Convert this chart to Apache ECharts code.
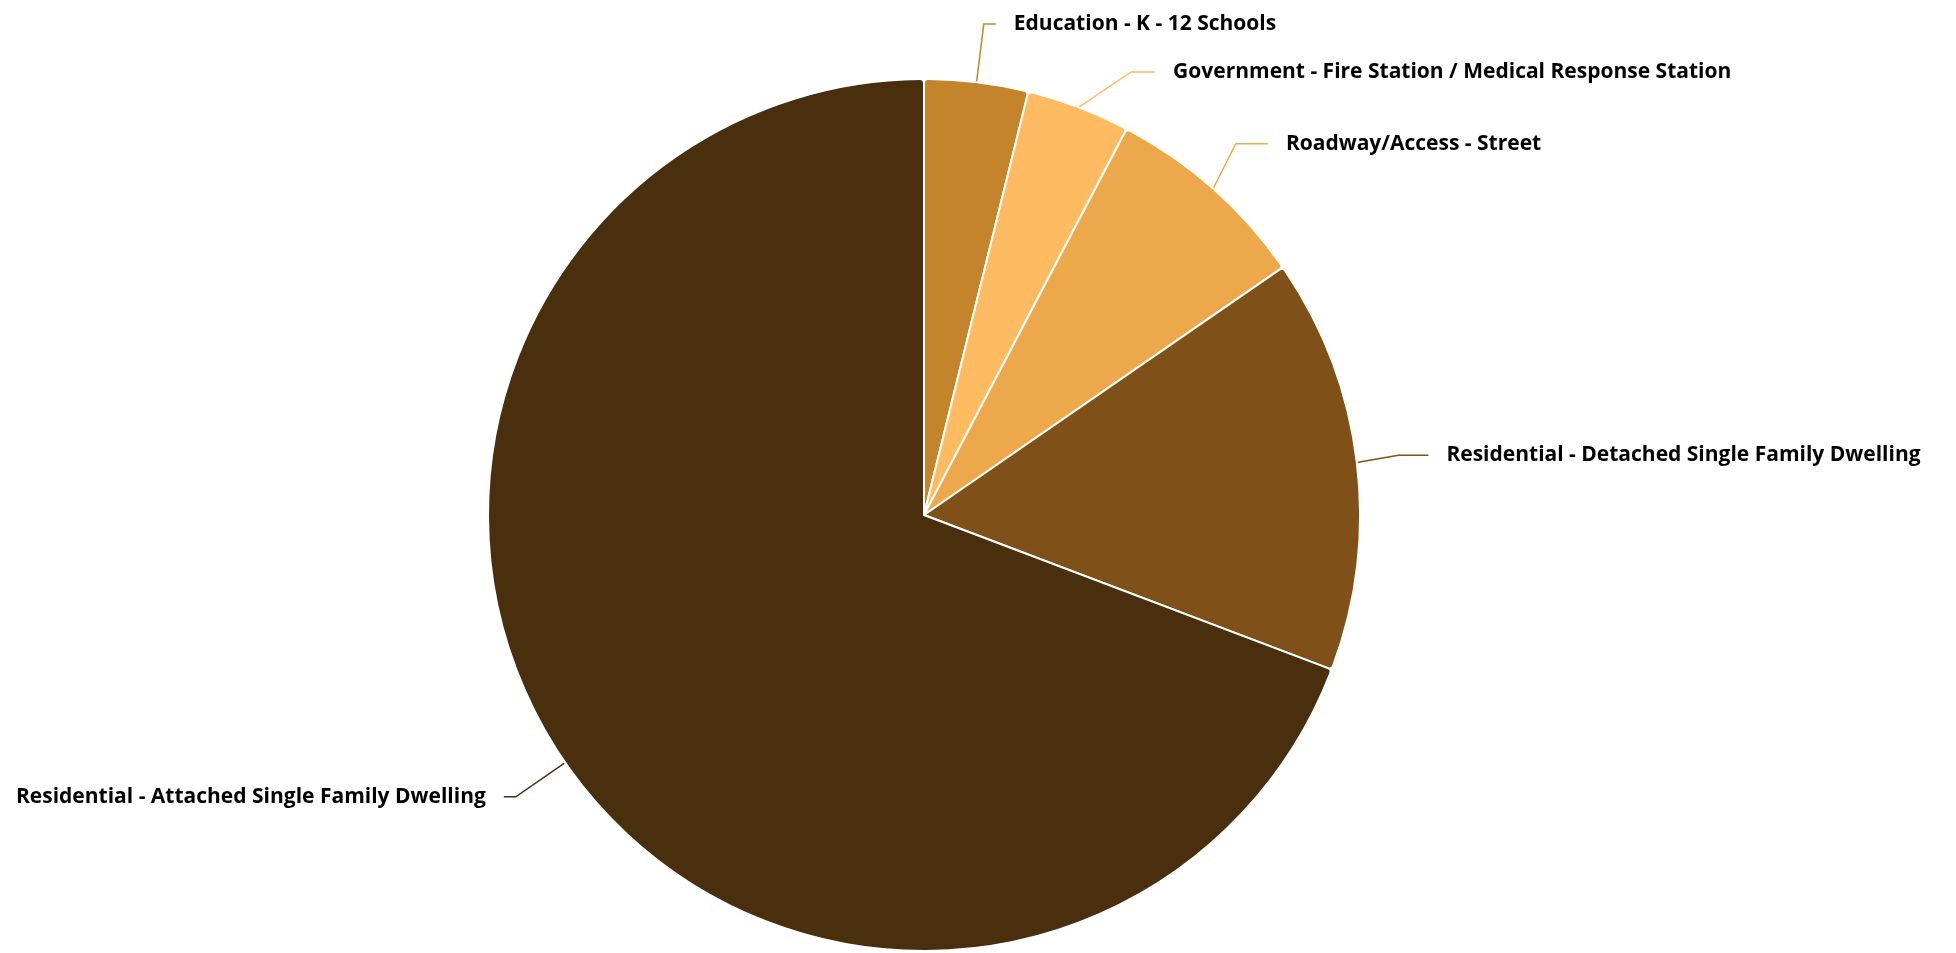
<!DOCTYPE html>
<html><head><meta charset="utf-8">
<script src="https://cdn.jsdelivr.net/npm/echarts@6/dist/echarts.min.js"></script>
<style>html,body{margin:0;padding:0;background:#fff}#c{width:1956px;height:953px}</style>
</head><body><div id="c"></div>
<script>
const categories = [
  "Education - K - 12 Schools",
  "Government - Fire Station / Medical Response Station",
  "Roadway/Access - Street",
  "Residential - Detached Single Family Dwelling",
  "Residential - Attached Single Family Dwelling"
];
const values = [1, 1, 2, 4, 18];
const colors = ["#C4842C", "#FEBB62", "#EDA84C", "#7F5118", "#4A2F0E"];
const tailLengths = [12, 24, 32, 30, 12];

const chart = echarts.init(document.getElementById('c'));
chart.setOption({
  animation: false,
  series: [{
    type: 'pie',
    center: [924, 515],
    radius: 436,
    startAngle: 90,
    clockwise: true,
    avoidLabelOverlap: true,
    itemStyle: { borderColor: '#fff', borderWidth: 2, borderRadius: 4 },
    label: {
      show: true,
      color: '#000',
      fontFamily: '"Open Sans", sans-serif',
      fontWeight: 'bold',
      fontSize: 21,
      lineHeight: 46,
      distanceToLabelLine: 18
    },
    labelLine: { show: true, length: 60, length2: 12, lineStyle: { width: 1.5 } },
    data: categories.map((n, i) => ({
      name: n, value: values[i],
      itemStyle: { color: colors[i] },
      labelLine: { length2: tailLengths[i] }
    }))
  }]
});
</script></body></html>
